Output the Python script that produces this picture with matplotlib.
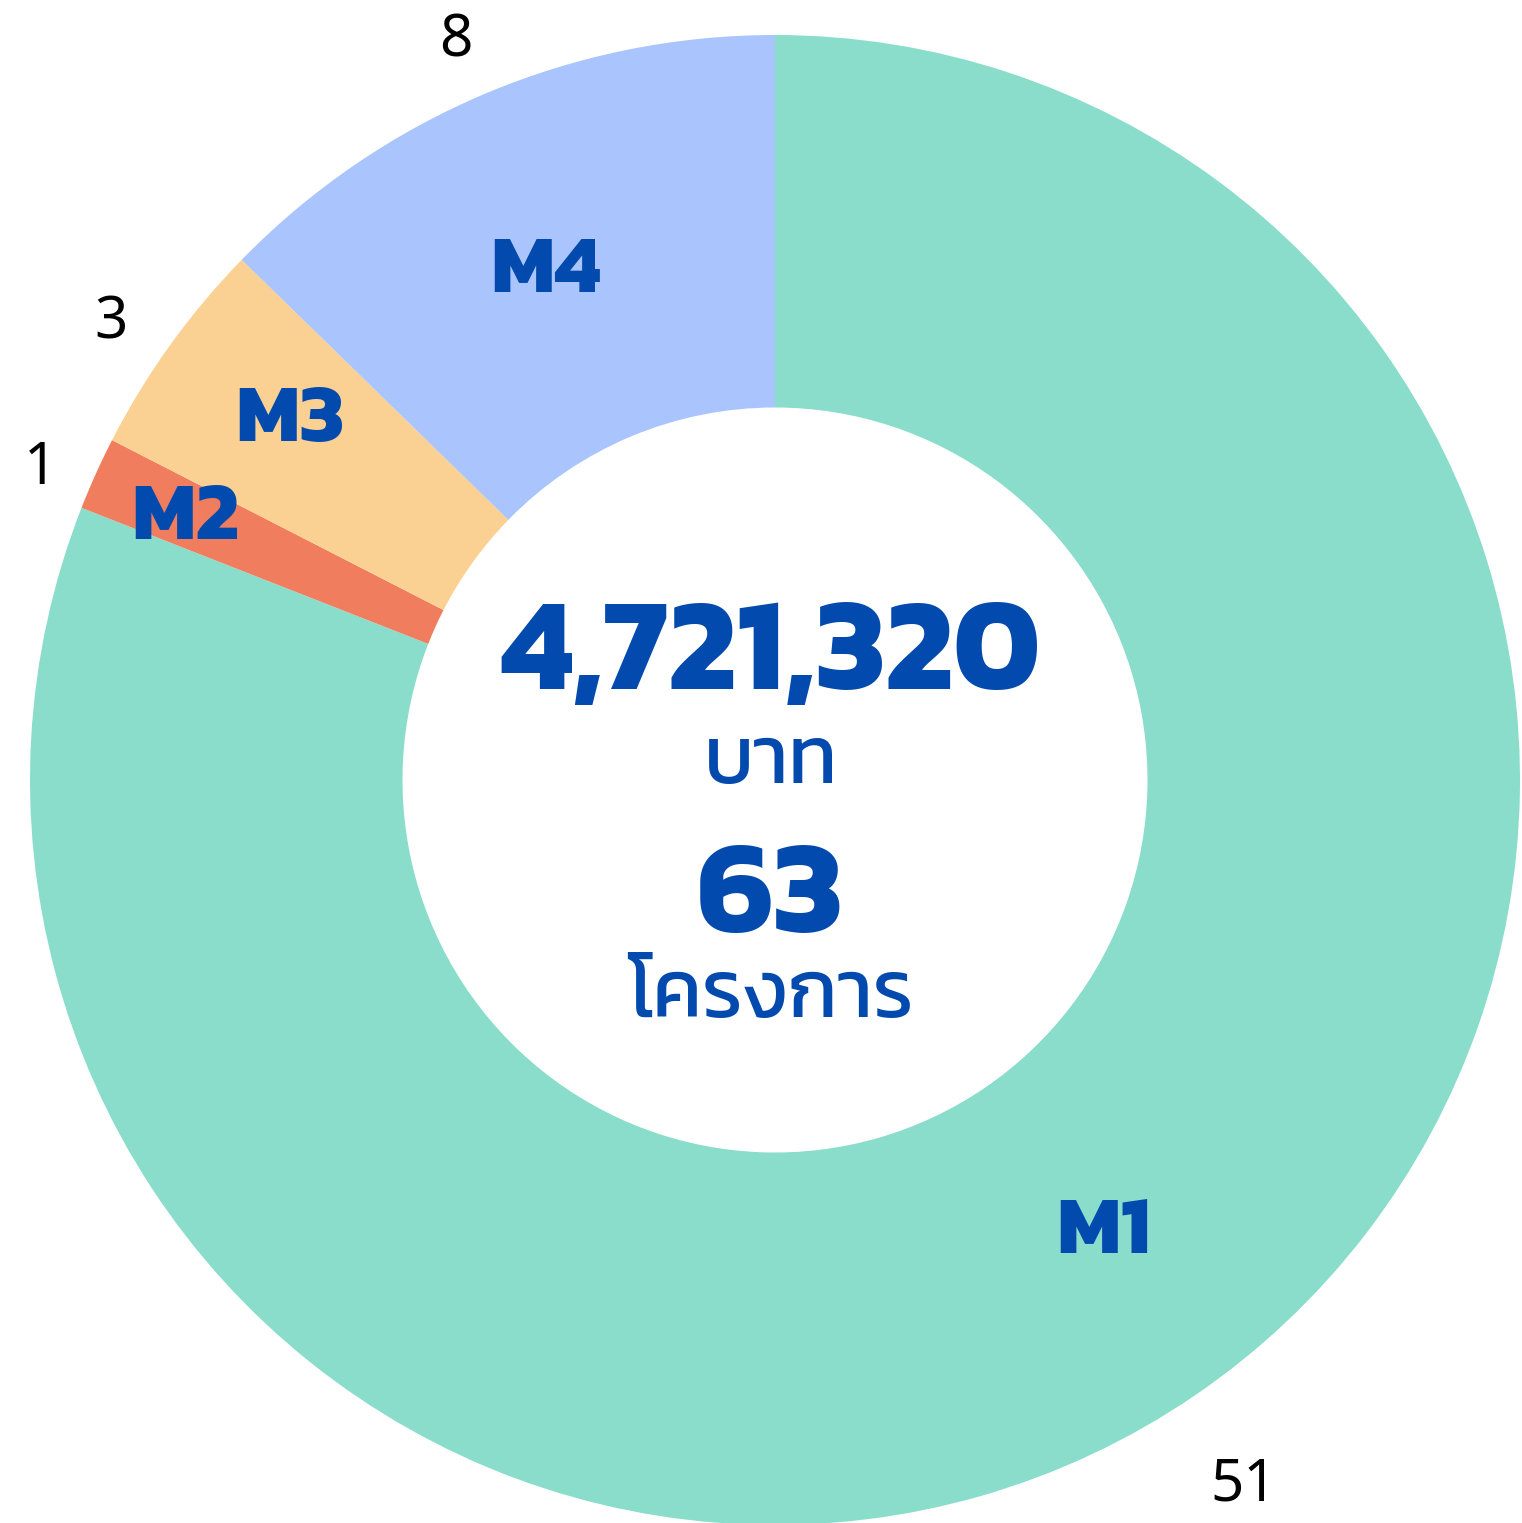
import matplotlib
matplotlib.use("Agg")
import matplotlib.pyplot as plt
import numpy as np

# ข้อมูล
categories = ["M1", "M2", "M3", "M4"]
counts = [51, 1, 3, 8]
total_budget = "4,721,320"
budget_unit = "บาท"
total_projects = "63"
project_unit = "โครงการ"

colors = ["#8ADDCB", "#F07D5E", "#FAD093", "#AAC4FD"]
text_blue = "#034AAE"

# ตำแหน่งป้าย (รัศมี, เลื่อนมุมเป็นองศา)
name_radius = [0.7526, 0.8654, 0.8092, 0.7473]
name_shift = [1.64, 0.51, -0.72, 1.54]
value_radius = [1.1366, 1.0706, 1.0820, 1.0804]
value_shift = [-0.65, 1.26, 1.17, 0.49]

plt.rcParams['font.family'] = ['Noto Sans', 'DejaVu Sans']
thai_font = ['Kanit', 'Noto Sans']

fig = plt.figure(figsize=(15.22, 15.23), dpi=100)
ax = fig.add_axes([0, 0, 1, 1])

R = 745.0
cx, cy = 775.0, 780.0
W, H = 1522.0, 1523.0

wedges, texts = ax.pie(counts, labels=[str(c) for c in counts], colors=colors,
                       startangle=90, counterclock=False, radius=1.0,
                       wedgeprops=dict(width=0.5, linewidth=0),
                       textprops=dict(fontsize=42, color="black"))

for w, t, name, rn, sn, rv, sv in zip(wedges, texts, categories, name_radius,
                                      name_shift, value_radius, value_shift):
    mid = (w.theta1 + w.theta2) / 2
    a = np.deg2rad(mid + sv)
    t.set_position((rv * np.cos(a), rv * np.sin(a)))
    t.set_ha("center")
    t.set_va("center")
    a = np.deg2rad(mid + sn)
    ax.text(rn * np.cos(a), rn * np.sin(a), name, ha="center", va="center",
            fontsize=60, fontweight="bold", color=text_blue, family=thai_font)

# ข้อความกลางวง
ax.text(-0.006, 0.122, total_budget, ha="center", va="baseline", fontsize=94,
        fontweight="bold", color=text_blue, family=thai_font)
ax.text(-0.006, -0.004, budget_unit, ha="center", va="baseline", fontsize=58,
        color=text_blue, family=thai_font)
ax.text(-0.006, -0.204, total_projects, ha="center", va="baseline", fontsize=94,
        fontweight="bold", color=text_blue, family=thai_font)
ax.text(-0.006, -0.318, project_unit, ha="center", va="baseline", fontsize=58,
        color=text_blue, family=thai_font)

ax.set_xlim(-cx / R, (W - cx) / R)
ax.set_ylim(-(H - cy) / R, cy / R)
ax.set_aspect("auto")
ax.axis("off")

fig.savefig("out.png", dpi=100)
